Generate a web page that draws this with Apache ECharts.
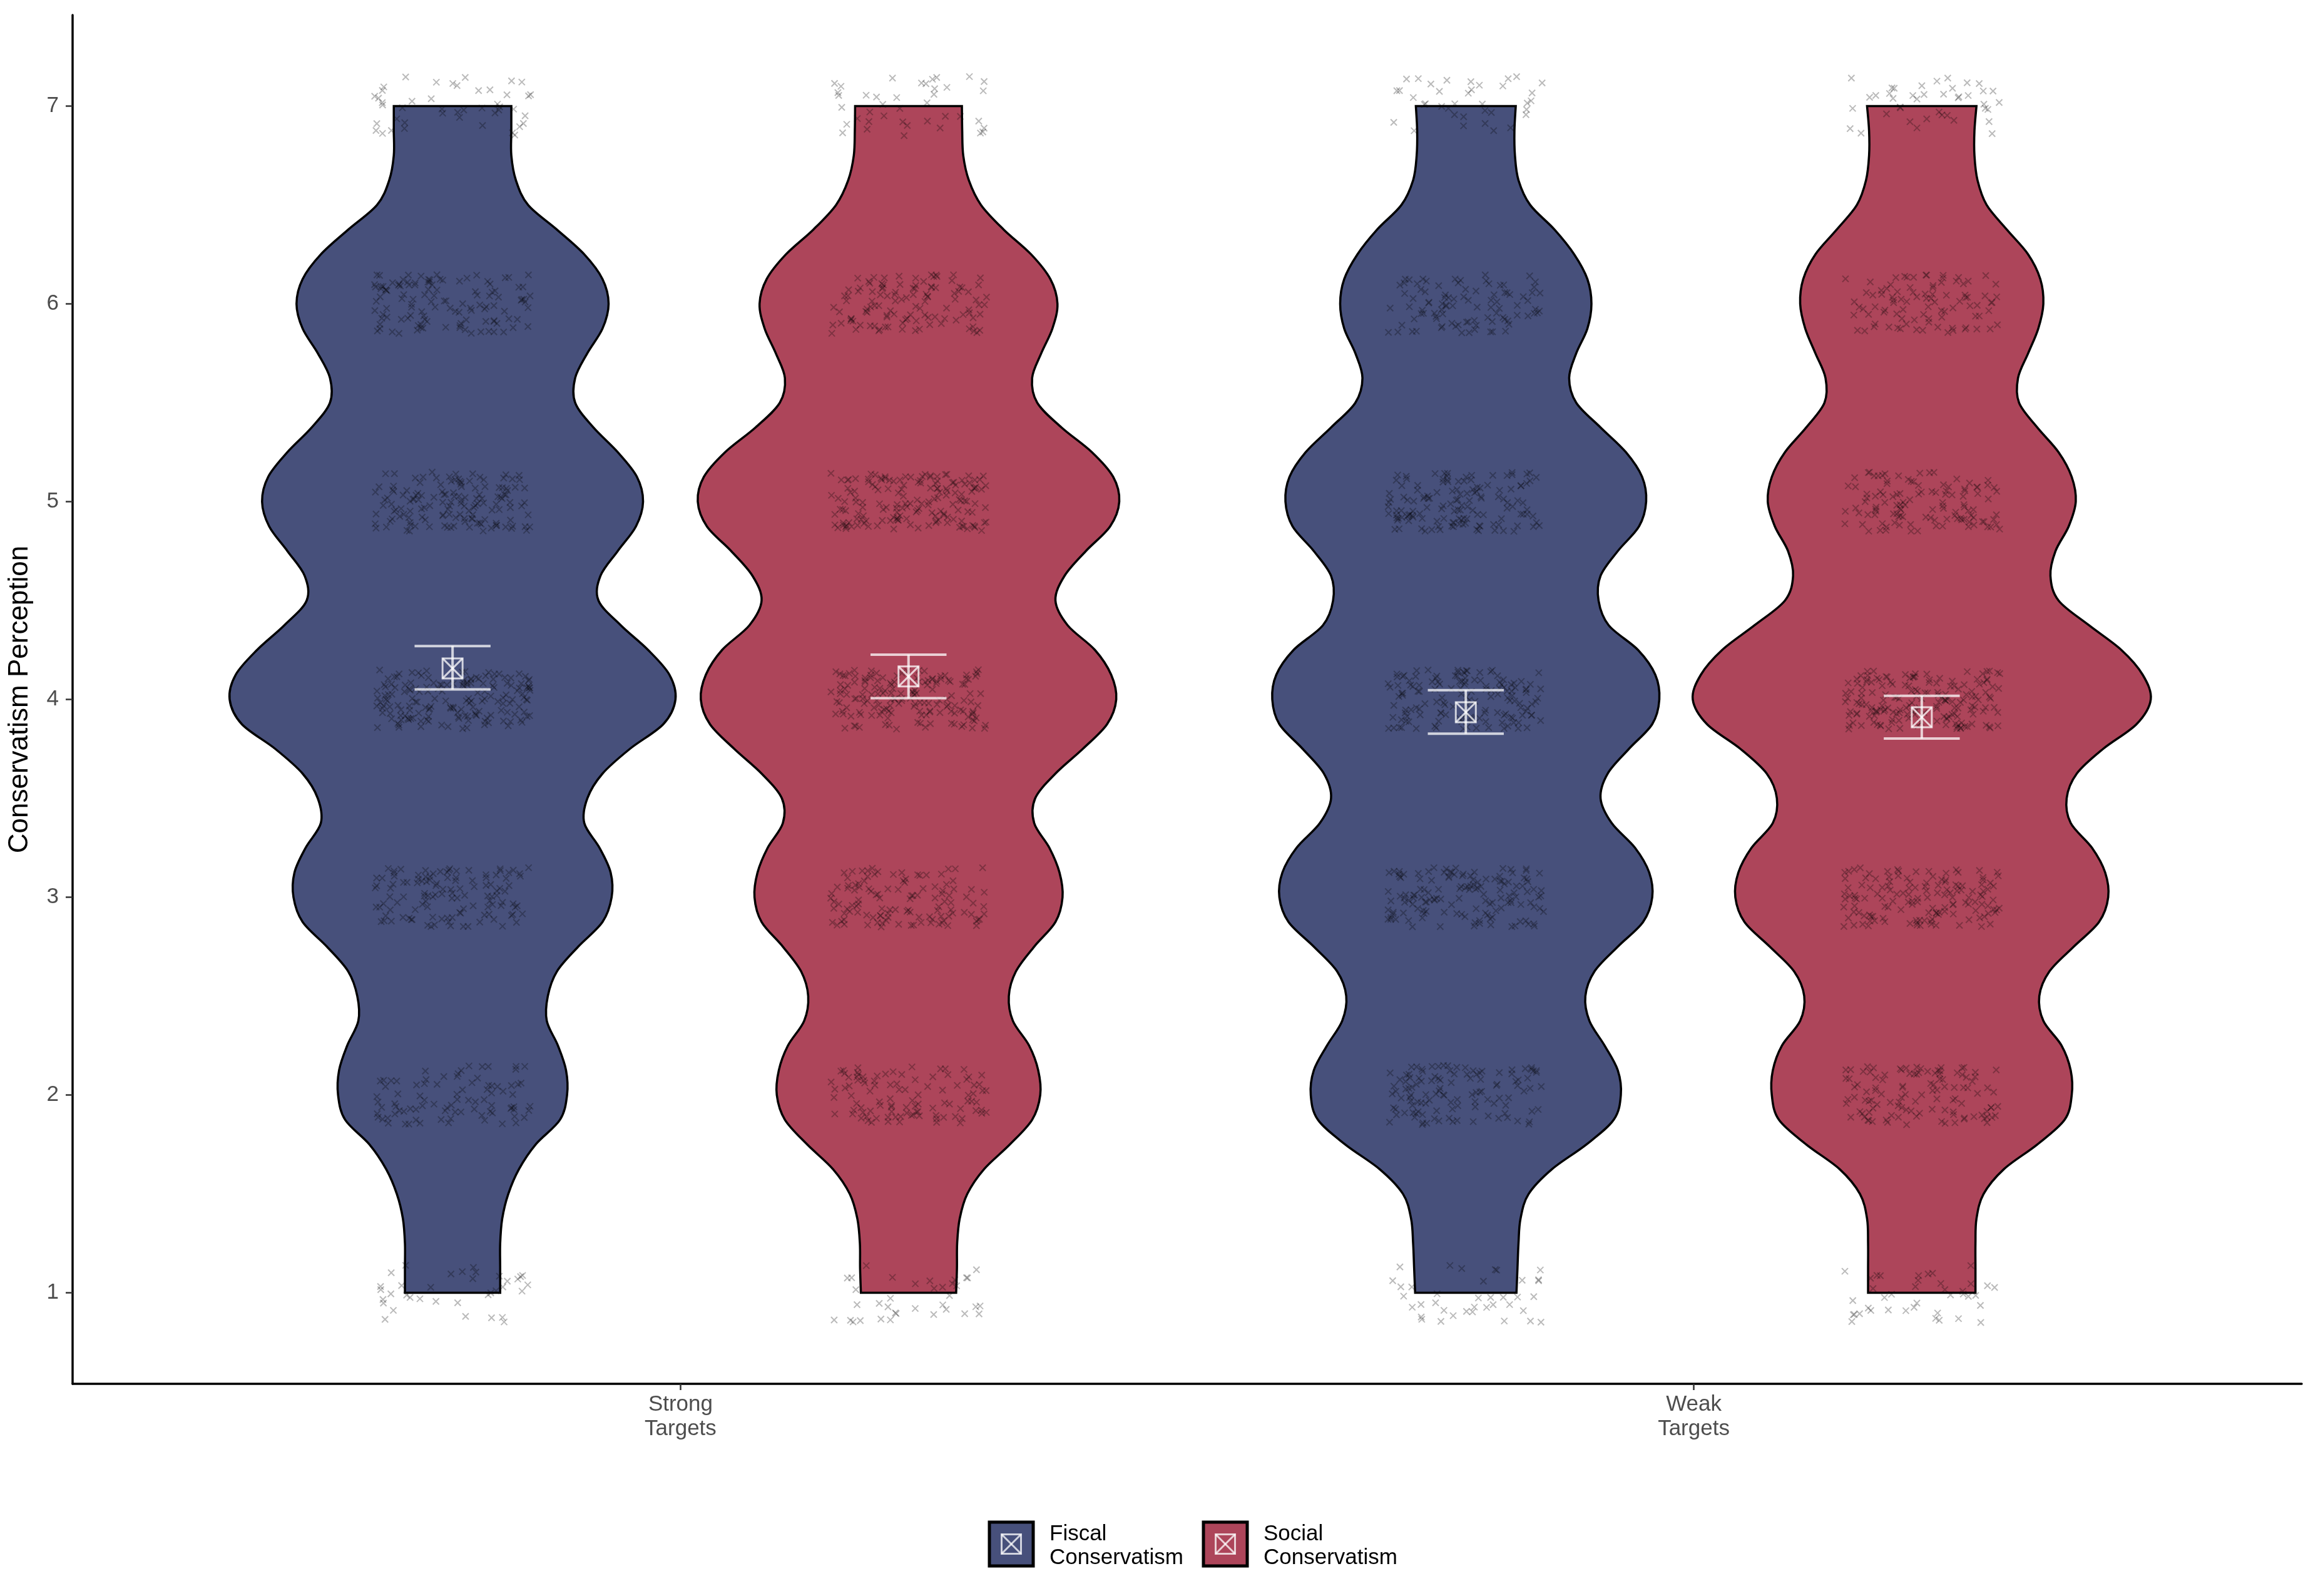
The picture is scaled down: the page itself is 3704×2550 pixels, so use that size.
<!DOCTYPE html>
<html><head><meta charset="utf-8">
<script src="https://cdn.jsdelivr.net/npm/echarts@6/dist/echarts.min.js"></script>
<style>html,body{margin:0;padding:0;background:#fff}#c{width:3704px;height:2550px}</style>
</head><body><div id="c"></div>
<script>
// ---------------- DATA ----------------
const targetLabels = ['Strong\nTargets', 'Weak\nTargets'];
const measureNames = ['Fiscal Conservatism', 'Social Conservatism'];
const levels = [1, 2, 3, 4, 5, 6, 7];
const yTickValues = [1, 2, 3, 4, 5, 6, 7];

// responses per scale level (1..7)
const countsStrongFiscal = [36, 86, 120, 168, 143, 118, 45];
const countsStrongSocial = [36, 100, 116, 157, 159, 112, 40];
const countsWeakFiscal   = [38, 116, 140, 146, 136, 95, 37];
const countsWeakSocial   = [40, 113, 140, 172, 116, 92, 41];

// violin outline: y values and half-widths (x-axis units)
const violinY = [1, 1.125, 1.25, 1.375, 1.5, 1.625, 1.75, 1.875, 2, 2.125, 2.25, 2.375, 2.5, 2.625, 2.75, 2.875,
  3, 3.125, 3.25, 3.375, 3.5, 3.625, 3.75, 3.875, 4, 4.125, 4.25, 4.375, 4.5, 4.625, 4.75, 4.875,
  5, 5.125, 5.25, 5.375, 5.5, 5.625, 5.75, 5.875, 6, 6.125, 6.25, 6.375, 6.5, 6.625, 6.75, 6.875, 7];
const hwStrongFiscal = [.047, .047, .047, .049, .055, .0655, .082, .106, .113, .112, .104, .093, .094, .103, .124, .148,
  .157, .156, .145, .130, .133, .148, .175, .208, .220, .214, .193, .166, .144, .146, .163, .181,
  .188, .182, .163, .139, .121, .121, .133, .148, .154, .148, .130, .103, .0745, .0625, .058, .058, .058];
const hwStrongSocial = [.047, .0478, .048, .0505, .058, .0745, .100, .122, .130, .128, .119, .103, .099, .106, .124, .145,
  .152, .149, .139, .124, .125, .145, .172, .196, .205, .200, .184, .157, .145, .154, .175, .199,
  .208, .202, .181, .151, .127, .122, .131, .142, .147, .140, .121, .094, .0715, .0595, .054, .053, .0527];
const hwWeakFiscal = [.050, .051, .052, .054, .062, .085, .119, .146, .153, .150, .137, .122, .118, .127, .150, .175,
  .184, .181, .167, .144, .133, .140, .161, .184, .191, .187, .170, .141, .131, .133, .150, .171,
  .178, .174, .158, .133, .109, .102, .109, .120, .124, .120, .107, .0876, .0635, .052, .0485, .048, .0493];
const hwWeakSocial = [.053, .053, .053, .054, .061, .081, .114, .141, .148, .147, .138, .120, .116, .126, .150, .175,
  .184, .181, .168, .147, .143, .153, .179, .212, .226, .218, .197, .165, .135, .127, .132, .145,
  .152, .148, .135, .114, .096, .095, .105, .115, .120, .117, .105, .084, .064, .055, .052, .052, .054];

// means with error bars: [StrongFiscal, StrongSocial, WeakFiscal, WeakSocial]
const meanValues = [4.157, 4.116, 3.935, 3.910];
const errLow     = [4.051, 4.006, 3.827, 3.802];
const errHigh    = [4.270, 4.226, 4.047, 4.018];

// ---------------- LAYOUT / STYLE ----------------
const FONT = '"Liberation Sans", Arial, Helvetica, sans-serif';
const colors = ['#47507B', '#AD455A'];
const dodge = [-0.225, 0.225];
const jitterW = 0.077, jitterH = 0.15;
const errHalfW = 0.0375;
const markStroke = 'rgba(255,255,255,0.75)';

const violins = [
  {t: 1, m: 0, hw: hwStrongFiscal, counts: countsStrongFiscal},
  {t: 1, m: 1, hw: hwStrongSocial, counts: countsStrongSocial},
  {t: 2, m: 0, hw: hwWeakFiscal, counts: countsWeakFiscal},
  {t: 2, m: 1, hw: hwWeakSocial, counts: countsWeakSocial}
];

function spline(pts) {
  let d = '';
  for (let i = 0; i < pts.length - 1; i++) {
    const p0 = pts[Math.max(i - 1, 0)], p1 = pts[i], p2 = pts[i + 1], p3 = pts[Math.min(i + 2, pts.length - 1)];
    const c1 = [p1[0] + (p2[0] - p0[0]) / 6, p1[1] + (p2[1] - p0[1]) / 6];
    const c2 = [p2[0] - (p3[0] - p1[0]) / 6, p2[1] - (p3[1] - p1[1]) / 6];
    d += ' C' + c1[0] + ',' + c1[1] + ' ' + c2[0] + ',' + c2[1] + ' ' + p2[0] + ',' + p2[1];
  }
  return d;
}

function violinRender(params, api) {
  const vi = api.value(2);
  const v = violins[vi];
  const cx = api.value(0) + dodge[v.m];
  const left = violinY.map((y, k) => api.coord([cx - v.hw[k], y]));
  const right = violinY.map((y, k) => api.coord([cx + v.hw[k], y])).reverse();
  const d = 'M' + left[0][0] + ',' + left[0][1] + spline(left) +
    ' L' + right[0][0] + ',' + right[0][1] + spline(right) + ' Z';
  return {type: 'path', shape: {pathData: d},
    style: {fill: api.visual('color'), stroke: '#000', lineWidth: 3.5}};
}

function jit(i, s) {
  const v = Math.sin(i * 127.1 + s * 311.7) * 43758.5453;
  return v - Math.floor(v);
}

const pointData = [];
violins.forEach(v => {
  levels.forEach((lv, k) => {
    for (let n = 0; n < v.counts[k]; n++) pointData.push([v.t, lv, v.m]);
  });
});

function pointRender(params, api) {
  const i = params.dataIndex;
  const cx = api.value(0) + dodge[api.value(2)] + (jit(i, 1) * 2 - 1) * jitterW;
  const cy = api.value(1) + (jit(i, 2) * 2 - 1) * jitterH;
  const p = api.coord([cx, cy]);
  const s = 5;
  return {type: 'path',
    shape: {pathData: 'M' + (p[0] - s) + ',' + (p[1] - s) + ' L' + (p[0] + s) + ',' + (p[1] + s) +
      ' M' + (p[0] - s) + ',' + (p[1] + s) + ' L' + (p[0] + s) + ',' + (p[1] - s)},
    style: {fill: null, stroke: 'rgba(0,0,0,0.27)', lineWidth: 2}};
}

const errData = violins.map((v, i) => [v.t, meanValues[i], errLow[i], errHigh[i], v.m]);

function errRender(params, api) {
  const cx = api.value(0) + dodge[api.value(4)];
  const pm = api.coord([cx, api.value(1)]);
  const lo = api.coord([cx, api.value(2)]);
  const hi = api.coord([cx, api.value(3)]);
  const l = api.coord([cx - errHalfW, api.value(2)])[0];
  const r = api.coord([cx + errHalfW, api.value(2)])[0];
  const h = 16;
  const st = {stroke: markStroke, lineWidth: 4, fill: null};
  return {type: 'group', children: [
    {type: 'line', shape: {x1: l, y1: hi[1], x2: r, y2: hi[1]}, style: st},
    {type: 'line', shape: {x1: l, y1: lo[1], x2: r, y2: lo[1]}, style: st},
    {type: 'line', shape: {x1: pm[0], y1: hi[1], x2: pm[0], y2: lo[1]}, style: st},
    {type: 'rect', shape: {x: pm[0] - h, y: pm[1] - h, width: 2 * h, height: 2 * h}, style: {stroke: markStroke, lineWidth: 3, fill: null}},
    {type: 'line', shape: {x1: pm[0] - h, y1: pm[1] - h, x2: pm[0] + h, y2: pm[1] + h}, style: {stroke: markStroke, lineWidth: 3}},
    {type: 'line', shape: {x1: pm[0] - h, y1: pm[1] + h, x2: pm[0] + h, y2: pm[1] - h}, style: {stroke: markStroke, lineWidth: 3}}
  ]};
}

function legendItem(x, color, text, textX) {
  const cx = x + 35, cy = 2467, h = 15.5;
  return [
    {type: 'rect', shape: {x: x, y: 2432, width: 70, height: 70}, style: {fill: color, stroke: '#000', lineWidth: 5}},
    {type: 'rect', shape: {x: cx - h, y: cy - h, width: 2 * h, height: 2 * h}, style: {fill: null, stroke: markStroke, lineWidth: 3}},
    {type: 'line', shape: {x1: cx - h, y1: cy - h, x2: cx + h, y2: cy + h}, style: {stroke: markStroke, lineWidth: 3}},
    {type: 'line', shape: {x1: cx - h, y1: cy + h, x2: cx + h, y2: cy - h}, style: {stroke: markStroke, lineWidth: 3}},
    {type: 'text', x: textX, y: 2470, style: {text: text, fill: '#000', font: '35px ' + FONT, lineHeight: 38, verticalAlign: 'middle', align: 'left'}}
  ];
}

const chart = echarts.init(document.getElementById('c'));
chart.setOption({
  animation: false,
  backgroundColor: '#fff',
  grid: {left: 116, right: 26, top: 24, bottom: 339, containLabel: false},
  xAxis: {
    type: 'value', min: 0.4, max: 2.6,
    axisLine: {show: true, lineStyle: {color: '#000', width: 3.5}},
    axisTick: {show: true, customValues: [1, 2], length: 10, lineStyle: {color: '#333', width: 2.5}},
    axisLabel: {show: true, customValues: [1, 2], margin: 14,
      formatter: v => targetLabels[Math.round(v) - 1],
      color: '#4D4D4D', fontSize: 35, lineHeight: 39, fontFamily: FONT},
    splitLine: {show: false}
  },
  yAxis: {
    type: 'value', min: 0.54, max: 7.46,
    name: 'Conservatism Perception', nameLocation: 'middle', nameGap: 62, nameRotate: 90,
    nameTextStyle: {color: '#000', fontSize: 44, fontFamily: FONT},
    axisLine: {show: true, lineStyle: {color: '#000', width: 3.5}},
    axisTick: {show: true, customValues: yTickValues, length: 11, lineStyle: {color: '#333', width: 2.5}},
    axisLabel: {show: true, customValues: yTickValues, margin: 22, color: '#4D4D4D', fontSize: 35, fontFamily: FONT},
    splitLine: {show: false}
  },
  series: [
    {name: measureNames[0], type: 'custom', renderItem: violinRender, itemStyle: {color: colors[0]},
      encode: {x: 0, y: 1}, data: [[1, 4, 0], [2, 4, 2]], z: 1},
    {name: measureNames[1], type: 'custom', renderItem: violinRender, itemStyle: {color: colors[1]},
      encode: {x: 0, y: 1}, data: [[1, 4, 1], [2, 4, 3]], z: 1},
    {name: 'responses', type: 'custom', renderItem: pointRender, encode: {x: 0, y: 1}, data: pointData, z: 2, silent: true},
    {name: 'mean', type: 'custom', renderItem: errRender, encode: {x: 0, y: [1, 2, 3]}, data: errData, z: 3, silent: true}
  ],
  graphic: [].concat(
    legendItem(1581, colors[0], 'Fiscal\nConservatism', 1677),
    legendItem(1923, colors[1], 'Social\nConservatism', 2019)
  )
});
</script></body></html>
